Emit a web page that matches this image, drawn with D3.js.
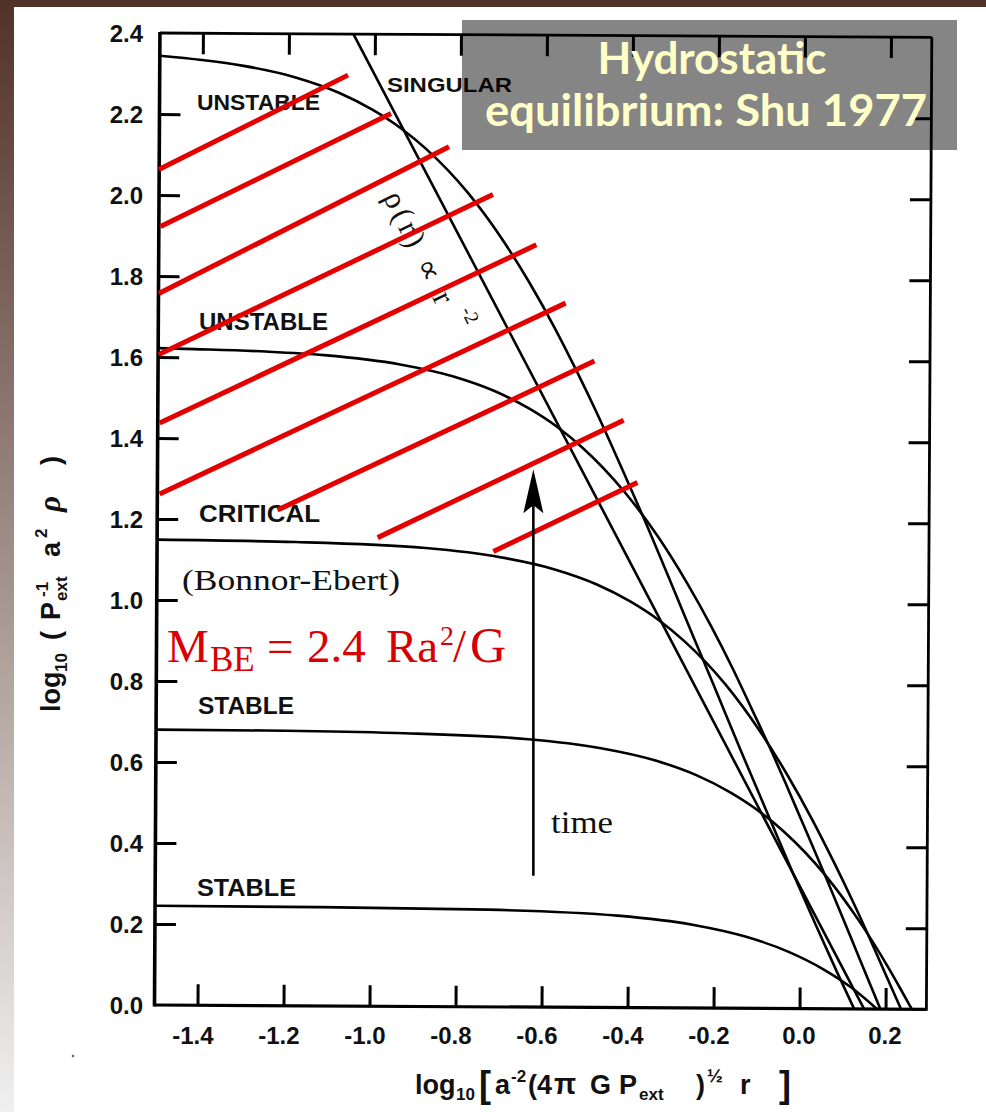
<!DOCTYPE html>
<html><head><meta charset="utf-8">
<script src="https://cdn.jsdelivr.net/npm/d3@7"></script>
<style>html,body{margin:0;padding:0;background:#fff;}svg{display:block;}</style>
</head><body>
<svg id="chart" width="986" height="1112"></svg>
<script>
// ---------- DATA ----------
const xTicks = [-1.4, -1.2, -1.0, -0.8, -0.6, -0.4, -0.2, 0.0, 0.2];
const xTickLabels = ["-1.4", "-1.2", "-1.0", "-0.8", "-0.6", "-0.4", "-0.2", "0.0", "0.2"];
const yTicks = [0.0, 0.2, 0.4, 0.6, 0.8, 1.0, 1.2, 1.4, 1.6, 1.8, 2.0, 2.2, 2.4];
const yTickLabels = ["0.0", "0.2", "0.4", "0.6", "0.8", "1.0", "1.2", "1.4", "1.6", "1.8", "2.0", "2.2", "2.4"];

// [log r, log rho] pairs
const unstableHigh = [[-1.500,2.344],[-1.402,2.334],[-1.305,2.320],[-1.180,2.291],[-1.083,2.255],[-1.004,2.213],[-0.937,2.167],[-0.879,2.117],[-0.782,2.010],[-0.703,1.898],[-0.636,1.786],[-0.578,1.677],[-0.527,1.572],[-0.481,1.472],[-0.440,1.378],[-0.402,1.288],[-0.367,1.205],[-0.305,1.051],[-0.251,0.915],[-0.202,0.793],[-0.139,0.634],[-0.083,0.496],[-0.019,0.339],[0.037,0.206],[0.087,0.090],[0.127,0.000]];
const unstableLow = [[-1.500,1.622],[-1.415,1.620],[-1.250,1.615],[-1.114,1.607],[-0.937,1.585],[-0.813,1.556],[-0.716,1.520],[-0.637,1.478],[-0.570,1.432],[-0.512,1.382],[-0.415,1.275],[-0.335,1.163],[-0.268,1.051],[-0.210,0.942],[-0.159,0.837],[-0.114,0.737],[-0.072,0.643],[-0.034,0.553],[0.000,0.470],[0.063,0.316],[0.117,0.180],[0.165,0.058],[0.188,0.000]];
const critical = [[-1.500,1.149],[-1.177,1.145],[-0.876,1.132],[-0.700,1.110],[-0.575,1.081],[-0.478,1.045],[-0.399,1.003],[-0.332,0.957],[-0.274,0.907],[-0.177,0.800],[-0.098,0.688],[-0.031,0.576],[0.027,0.467],[0.078,0.362],[0.124,0.262],[0.165,0.168],[0.203,0.078],[0.236,0.000]];
const stableHigh = [[-1.500,0.680],[-1.200,0.679],[-0.942,0.675],[-0.641,0.662],[-0.465,0.640],[-0.340,0.611],[-0.243,0.575],[-0.164,0.533],[-0.097,0.487],[-0.039,0.437],[0.058,0.330],[0.137,0.218],[0.204,0.106],[0.234,0.051],[0.261,0.000]];
const stableLow = [[-1.500,0.245],[-1.123,0.244],[-0.725,0.240],[-0.424,0.227],[-0.247,0.205],[-0.123,0.176],[-0.026,0.140],[0.054,0.098],[0.121,0.052],[0.180,0.000]];
const singular = [[-1.050,2.400],[0.150,0.000]];

// red overlay strokes: [[x1,y1],[x2,y2]]
const redLines = [
  [[-1.490,2.063],[-1.050,2.296]],
  [[-1.486,1.922],[-0.950,2.201]],
  [[-1.490,1.757],[-0.815,2.119]],
  [[-1.490,1.606],[-0.713,2.001]],
  [[-1.488,1.437],[-0.612,1.877]],
  [[-1.488,1.262],[-0.544,1.733]],
  [[-1.214,1.222],[-0.477,1.590]],
  [[-0.981,1.154],[-0.409,1.444]],
  [[-0.712,1.120],[-0.377,1.290]]
];
const timeArrow = [[-0.619,0.319],[-0.619,1.323]];

// ---------- SCALES ----------
const W = 986, H = 1112;
const x = d3.scaleLinear().domain([-1.5, 0.295]).range([154.5, 926.4]);
const y = d3.scaleLinear().domain([0, 2.4]).range([1005, 33]);
const SANS = "'Liberation Sans', Arial, Helvetica, sans-serif";
const SERIF = "'Liberation Serif', 'Times New Roman', Times, serif";

const svg = d3.select("#chart");
const defs = svg.append("defs");
const grad = defs.append("linearGradient").attr("id","leftGrad").attr("x1",0).attr("y1",0).attr("x2",0).attr("y2",1);
grad.append("stop").attr("offset","0%").attr("stop-color","#513229");
grad.append("stop").attr("offset","55%").attr("stop-color","#a89892");
grad.append("stop").attr("offset","100%").attr("stop-color","#f0f0f0");

svg.append("rect").attr("width",W).attr("height",H).attr("fill","#ffffff");
svg.append("rect").attr("x",0).attr("y",0).attr("width",14).attr("height",H).attr("fill","url(#leftGrad)");
svg.append("rect").attr("x",0).attr("y",0).attr("width",W).attr("height",7).attr("fill","#513229");

// ---------- SCANNED FIGURE (slightly rotated like the scan) ----------
const plot = svg.append("g").attr("transform", `rotate(0.32, ${x(-1.5)}, ${y(0)})`);

function styleAxis(g){
  g.select(".domain").remove();
  g.selectAll(".tick line").attr("stroke","#000").attr("stroke-width",3);
}
plot.append("g").attr("transform",`translate(${x(-1.5)},0)`)
  .call(d3.axisLeft(y).tickValues(yTicks.slice(1,-1)).tickSize(-21).tickFormat("")).call(styleAxis);
plot.append("g").attr("transform",`translate(${x(0.295)},0)`)
  .call(d3.axisRight(y).tickValues(yTicks.slice(1,-1)).tickSize(-21).tickFormat("")).call(styleAxis);
plot.append("g").attr("transform",`translate(0,${y(0)})`)
  .call(d3.axisBottom(x).tickValues(xTicks).tickSize(-21).tickFormat("")).call(styleAxis);
plot.append("g").attr("transform",`translate(0,${y(2.4)})`)
  .call(d3.axisTop(x).tickValues(xTicks).tickSize(-21).tickFormat("")).call(styleAxis);

// frame
plot.append("line").attr("x1",x(-1.5)).attr("x2",x(-1.5)).attr("y1",y(2.4)-1).attr("y2",y(0)+1.5).attr("stroke","#000").attr("stroke-width",3.6);
plot.append("line").attr("x1",x(-1.5)).attr("x2",x(0.295)).attr("y1",y(0)).attr("y2",y(0)).attr("stroke","#000").attr("stroke-width",3.2);
plot.append("line").attr("x1",x(-1.5)).attr("x2",x(0.295)).attr("y1",y(2.4)).attr("y2",y(2.4)).attr("stroke","#000").attr("stroke-width",2.8);
plot.append("line").attr("x1",x(0.295)).attr("x2",x(0.295)).attr("y1",y(2.4)).attr("y2",y(0)+1.5).attr("stroke","#000").attr("stroke-width",2.8);

const line = d3.line().x(d=>x(d[0])).y(d=>y(d[1])).curve(d3.curveMonotoneX);
plot.selectAll("path.sol").data([unstableHigh, unstableLow, critical, stableHigh, stableLow]).join("path")
  .attr("class","sol").attr("d",line).attr("fill","none").attr("stroke","#000").attr("stroke-width",2.6);
plot.append("path").datum(singular).attr("d", d3.line().x(d=>x(d[0])).y(d=>y(d[1])))
  .attr("fill","none").attr("stroke","#000").attr("stroke-width",2.6);

// scanned lettering
const labels = svg.append("g").attr("font-family",SANS).attr("font-weight","bold").attr("fill","#111");
[["SINGULAR",387,92,125,21],["UNSTABLE",197,110,123,22],["UNSTABLE",199,330,129,23],["CRITICAL",199,522,121,23],["STABLE",198,714,96,23],["STABLE",197,896,99,23]]
  .forEach(([t,px,py,len,fs])=>{
    labels.append("text").attr("x",px).attr("y",py).attr("font-size",fs)
      .attr("textLength",len).attr("lengthAdjust","spacingAndGlyphs").text(t);
  });

// tick labels
const tl = svg.append("g").attr("font-family",SANS).attr("font-weight","bold").attr("font-size",24).attr("fill","#111");
tl.selectAll("text.yl").data(yTicks).join("text").attr("class","yl")
  .attr("x",143).attr("y",d=>y(d)).attr("dy","0.36em").attr("text-anchor","end")
  .text((d,i)=>yTickLabels[i]);
tl.selectAll("text.xl").data(xTicks).join("text").attr("class","xl")
  .attr("x",d=>x(d)+16).attr("y",1044).attr("text-anchor","end")
  .text((d,i)=>xTickLabels[i]);

// y axis title (rotated; tspan x = -screenY, y = screen x)
const yt = svg.append("text").attr("transform","rotate(-90)")
  .attr("font-family",SANS).attr("font-weight","bold").attr("font-size",27).attr("fill","#111");
[["log",-712,60,27],["10",-672,67,17],["(",-640,60,27],["P",-620,60,27],["ext",-601,67,17],["-1",-597,48,17],["a",-557,60,27],["2",-538,47,17]]
  .forEach(([t,tx,ty,fs])=>yt.append("tspan").attr("x",tx).attr("y",ty).attr("font-size",fs).text(t));
yt.append("tspan").attr("x",-512).attr("y",60).attr("font-family",SERIF).attr("font-style","italic").attr("font-size",31).text("ρ");
yt.append("tspan").attr("x",-465).attr("y",60).attr("font-size",27).text(")");

// x axis title
const xt = svg.append("text").attr("font-family",SANS).attr("font-weight","bold").attr("font-size",27).attr("fill","#111");
[["log",415,1094,27],["10",456,1100,17],["[",479,1097,36],["a",495,1094,27],["-2",511,1082,17],["(4",528,1094,27],["π",554,1094,29],["G",590,1094,27],["P",619,1094,27],["ext",639,1100,17],[")",696,1094,27],["½",707,1082,19],["r",740,1094,27],["]",779,1097,36]]
  .forEach(([t,tx,ty,fs])=>xt.append("tspan").attr("x",tx).attr("y",ty).attr("font-size",fs).text(t));

// rotated power-law label along the singular line
const pl = svg.append("text").attr("transform","translate(383,197) rotate(64)")
  .attr("font-family",SERIF).attr("font-size",31).attr("fill","#111");
pl.append("tspan").attr("textLength",122).attr("lengthAdjust","spacing").text("ρ(r)  ∝  r");
pl.append("tspan").attr("font-size",20).attr("dx",10).attr("dy",-20).text("-2");

// ---------- OVERLAYS ----------
svg.append("g").selectAll("line.red").data(redLines).join("line").attr("class","red")
  .attr("x1",d=>x(d[0][0])).attr("y1",d=>y(d[0][1])).attr("x2",d=>x(d[1][0])).attr("y2",d=>y(d[1][1]))
  .attr("stroke","#e30000").attr("stroke-width",5);

// time arrow
const ax = x(timeArrow[0][0]), ay0 = y(timeArrow[0][1]), ay1 = y(timeArrow[1][1]);
svg.append("line").attr("x1",ax).attr("x2",ax).attr("y1",ay0).attr("y2",ay1+30).attr("stroke","#000").attr("stroke-width",2.6);
svg.append("path").attr("d",`M${ax},${ay1} L${ax+10},${ay1+44} L${ax},${ay1+36} L${ax-10},${ay1+44} Z`).attr("fill","#000");
svg.append("text").attr("x",551).attr("y",833).attr("font-family",SERIF).attr("font-size",32)
  .attr("textLength",62).attr("lengthAdjust","spacingAndGlyphs").attr("fill","#111").text("time");

svg.append("text").attr("x",182).attr("y",590).attr("font-family",SERIF).attr("font-size",30)
  .attr("textLength",218).attr("lengthAdjust","spacingAndGlyphs").attr("fill","#111").text("(Bonnor-Ebert)");

const mbe = svg.append("text").attr("font-family",SERIF).attr("font-size",47).attr("fill","#d80000");
[["M",167,662,47],["BE",210,671,35],["=",267,662,47],["2.4",307,662,47],["Ra",386,662,47],["2",440,645,28],["/",453,662,47],["G",470,662,50]]
  .forEach(([t,tx,ty,fs])=>mbe.append("tspan").attr("x",tx).attr("y",ty).attr("font-size",fs).text(t));

// speck in the scan
svg.append("circle").attr("cx",73).attr("cy",1056).attr("r",1.3).attr("fill","#666");

// title box (semi-transparent so the frame shows through)
svg.append("rect").attr("x",462).attr("y",20).attr("width",495).attr("height",130).attr("fill","#000").attr("fill-opacity",0.48);
const tb = svg.append("text").attr("font-family","Lato, 'Open Sans', sans-serif").attr("font-weight","bold")
  .attr("font-size",44).attr("fill","#ffffc8").attr("text-anchor","middle");
tb.append("tspan").attr("x",712).attr("y",74).attr("textLength",229).attr("lengthAdjust","spacingAndGlyphs").text("Hydrostatic");
tb.append("tspan").attr("x",706).attr("y",126).attr("textLength",442).attr("lengthAdjust","spacingAndGlyphs").text("equilibrium: Shu 1977");
</script>
</body></html>
